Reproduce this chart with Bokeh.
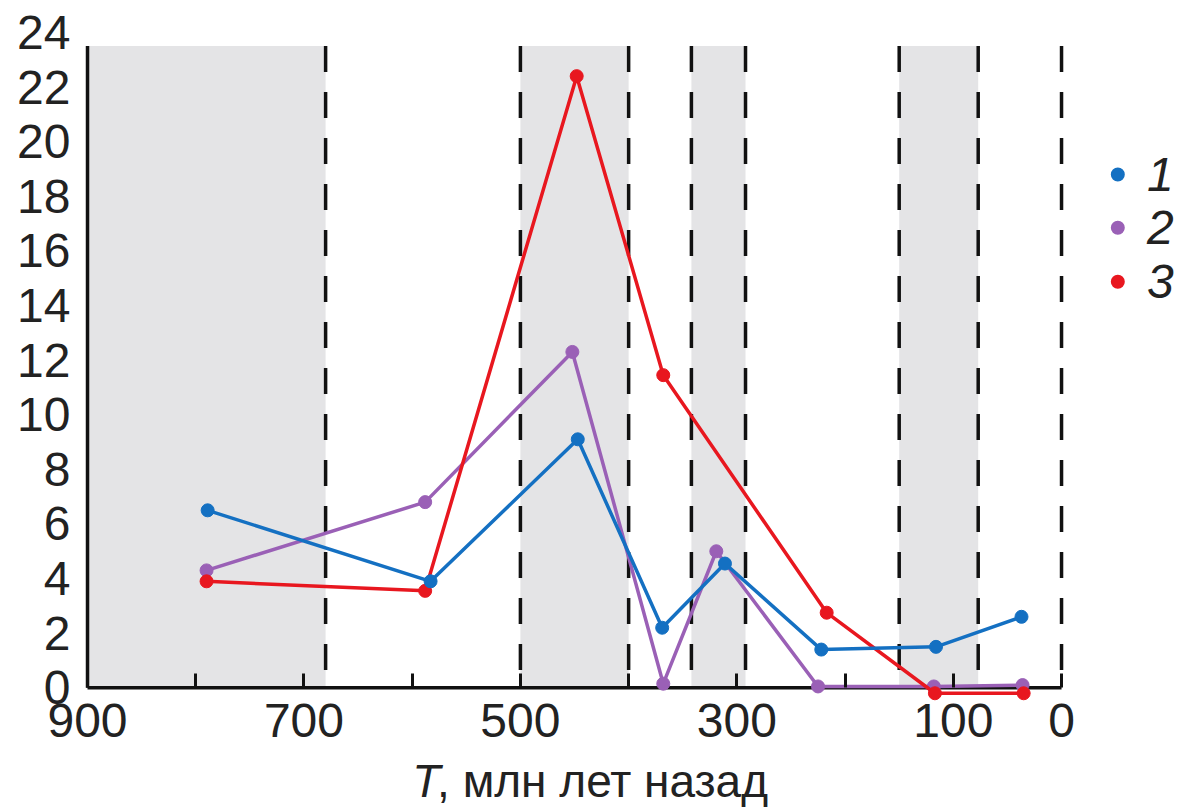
from bokeh.plotting import figure
from bokeh.models import Range1d, FixedTicker, Label
from bokeh.core.properties import value
from bokeh.embed import file_html
from bokeh.resources import INLINE

# ---- data ----
x1 = [789, 583, 447, 369, 311, 222, 116, 37]
y1 = [6.5, 3.9, 9.1, 2.2, 4.55, 1.4, 1.5, 2.6]
x2 = [790, 588, 452, 368, 319, 225, 118, 36]
y2 = [4.3, 6.8, 12.3, 0.15, 5.0, 0.05, 0.05, 0.1]
x3 = [790, 588, 448, 368, 217, 117, 35]
y3 = [3.9, 3.55, 22.4, 11.45, 2.75, -0.2, -0.2]

shade_left = [900, 500, 342, 150]
shade_right = [680, 400, 292, 77]
boundaries = [680, 500, 400, 342, 292, 150, 77, 0]
top_value = 23.5

x_ticks = [0, 100, 200, 300, 400, 500, 600, 700, 800, 900]
x_tick_labels = {800: "", 600: "", 400: "", 200: ""}
y_ticks = list(range(0, 25, 2))

series_names = ["1", "2", "3"]
series_colors = ["#1470c2", "#9a60b6", "#e8171f"]

FONT = "Liberation Sans"
TXT = "#222222"

p = figure(width=1179, height=808,
           x_range=Range1d(980.4, -109), y_range=Range1d(-4.42, 25.17),
           output_backend="svg", toolbar_location=None,
           min_border_left=0, min_border_right=0,
           min_border_top=0, min_border_bottom=0)
p.outline_line_color = None
p.xgrid.grid_line_color = None
p.ygrid.grid_line_color = None
p.background_fill_color = "white"
p.border_fill_color = "white"

# shaded periods
p.quad(left=shade_left, right=shade_right, bottom=0, top=top_value,
       fill_color="#e4e4e6", line_color=None)
# dashed boundaries
p.segment(x0=boundaries, x1=boundaries, y0=[top_value] * len(boundaries),
          y1=[0] * len(boundaries), line_color="#111111", line_width=3.5,
          line_dash="26 20")
# axis lines
p.segment(x0=[900, 900], y0=[0, 0], x1=[0, 900], y1=[0, top_value],
          line_color="#111111", line_width=3.5)

# series
for xs, ys, c in [(x2, y2, series_colors[1]), (x3, y3, series_colors[2]),
                  (x1, y1, series_colors[0])]:
    p.line(xs, ys, line_color=c, line_width=3.5)
    p.scatter(xs, ys, size=13, fill_color=c, line_color=c)

# axes
xa = p.xaxis[0]
xa.ticker = FixedTicker(ticks=x_ticks)
xa.major_label_overrides = x_tick_labels
xa.fixed_location = 0
xa.axis_line_color = None
xa.major_tick_in = 14
xa.major_tick_out = 0
xa.major_tick_line_width = 3
xa.major_tick_line_color = "#111111"
xa.minor_tick_line_color = None
xa.major_label_text_font = FONT
xa.major_label_text_font_size = "48px"
xa.major_label_text_color = TXT
xa.major_label_standoff = 16

ya = p.yaxis[0]
ya.ticker = FixedTicker(ticks=y_ticks)
ya.fixed_location = 900
ya.axis_line_color = None
ya.major_tick_in = 0
ya.major_tick_out = 0
ya.minor_tick_line_color = None
ya.major_label_text_font = FONT
ya.major_label_text_font_size = "48px"
ya.major_label_text_color = TXT
ya.major_label_standoff = 17

# axis title
p.add_layout(Label(x=600, y=-3.43, text="T", text_font=FONT,
                   text_font_style="italic", text_font_size="46px",
                   text_color=TXT, text_baseline="alphabetic", text_align="left"))
p.add_layout(Label(x=577, y=-3.43, text=", млн лет назад", text_font=FONT,
                   text_font_size="46px", text_color=TXT,
                   text_baseline="alphabetic", text_align="left"))

# legend
leg_y = [18.8, 16.85, 14.87]
p.scatter(x=[-52] * 3, y=leg_y, size=14, fill_color=series_colors,
          line_color=None)
p.text(x=[-79] * 3, y=leg_y, text=series_names, text_font=value(FONT),
       text_font_style="italic", text_font_size="48px", text_color=TXT,
       text_baseline="middle", text_align="left")

open("out.html", "w").write(file_html(p, INLINE))
